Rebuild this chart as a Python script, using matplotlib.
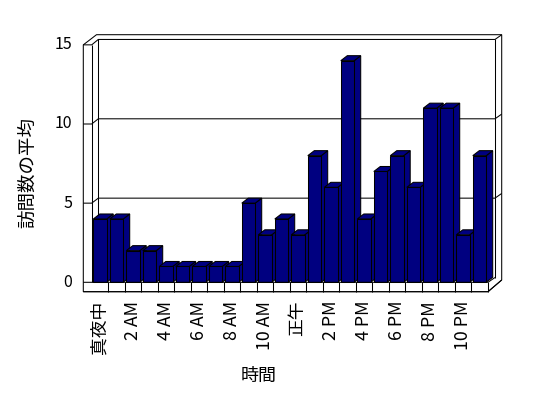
import numpy as np
import matplotlib.pyplot as plt
from matplotlib.patches import Polygon

plt.rcParams['font.family'] = ['Noto Sans CJK JP', 'DejaVu Sans']

hours = list(range(24))
visits = [4, 4, 2, 2, 1, 1, 1, 1, 1, 5, 3, 4, 3, 8, 6, 14, 4, 7, 8, 6, 11, 11, 3, 8]
tick_labels = ['真夜中', '2 AM', '4 AM', '6 AM', '8 AM', '10 AM',
               '正午', '2 PM', '4 PM', '6 PM', '8 PM', '10 PM']
y_ticks = [0, 5, 10, 15]

# pixel layout of the "3D" plot area
X0, CW = 91.8, 16.5      # left of first category, category width (px)
Y0, VH = 282.3, 15.83    # y of value 0 (px from top), px per unit
W, H = 548, 398


def P(xp, yp):
    return (xp - X0) / CW, (Y0 - yp) / VH


def front_y(v):
    return Y0 - VH * v


def back_y(v):
    return 277.5 - 15.87 * v


def line(ax, pts, z=1):
    xs, ys = zip(*[P(*p) for p in pts])
    ax.plot(xs, ys, color='black', lw=0.75, zorder=z, solid_capstyle='butt')


fig = plt.figure(figsize=(W / 100, H / 100), dpi=100)
ax = fig.add_axes([0, 0, 1, 1])
ax.set_xlim(-X0 / CW, (W - X0) / CW)
ax.set_ylim((Y0 - H) / VH, Y0 / VH)
ax.axis('off')

# walls and floor outline
outline = [(83.3, 291.7), (488, 291.7), (501.7, 280), (501.7, 34.7),
           (96.5, 34.7), (83.3, front_y(15))]
ax.add_patch(Polygon([P(*p) for p in outline], closed=True, facecolor='white',
                     edgecolor='black', lw=0.75, zorder=0.5))
line(ax, [(91.7, front_y(15)), (91.7, Y0)])
line(ax, [(98.3, back_y(15)), (98.3, back_y(0))])
line(ax, [(495, back_y(15)), (495, back_y(0))])
for v in y_ticks[1:]:
    line(ax, [(83.3, front_y(v)), (91.7, front_y(v)), (98.3, back_y(v)),
              (495, back_y(v)), (501.7, back_y(v) - 4.7)])

# floor front face
line(ax, [(83.3, Y0), (488, Y0), (495, back_y(0))], z=50)
line(ax, [(83.3, 291.7), (488, 291.7), (501.7, 280)], z=50)
for k in range(1, 25):
    xk = X0 + CW * k
    line(ax, [(xk, Y0), (xk, 291.7)], z=50)

# bars
off, bw = 1.5 / CW, 13.4 / CW
dx, dy = 6.5 / CW, 5.0 / VH
bars = ax.bar(np.array(hours) + off, visits, width=bw, align='edge',
              color='#000080', edgecolor='black', linewidth=0.75)
for i, (b, v) in enumerate(zip(bars, visits)):
    x0 = b.get_x()
    x1 = x0 + b.get_width()
    z = 2 + i * 0.01
    b.set_zorder(z + 0.005)
    side = [(x1, 0), (x1 + dx, dy), (x1 + dx, v + dy), (x1, v)]
    top = [(x0, v), (x0 + dx, v + dy), (x1 + dx, v + dy), (x1, v)]
    for poly in (side, top):
        ax.add_patch(Polygon(poly, closed=True, facecolor='#000080',
                             edgecolor='black', lw=0.75, zorder=z))

# texts
for v in y_ticks:
    ax.text(*P(72, front_y(v)), str(v), ha='right', va='center', fontsize=11.5)
for j, lab in enumerate(tick_labels):
    cx = X0 + CW * (2 * j + 0.5) - 0.5
    ax.text(*P(cx, 301), lab, rotation=90, ha='center', va='top', fontsize=12.8)
ax.text(*P(28, 173), '訪問数の平均', rotation=90, ha='center', va='center',
        fontsize=13.3)
ax.text(*P(259, 375.5), '時間', ha='center', va='center', fontsize=13)

fig.savefig('out.png', dpi=100)
